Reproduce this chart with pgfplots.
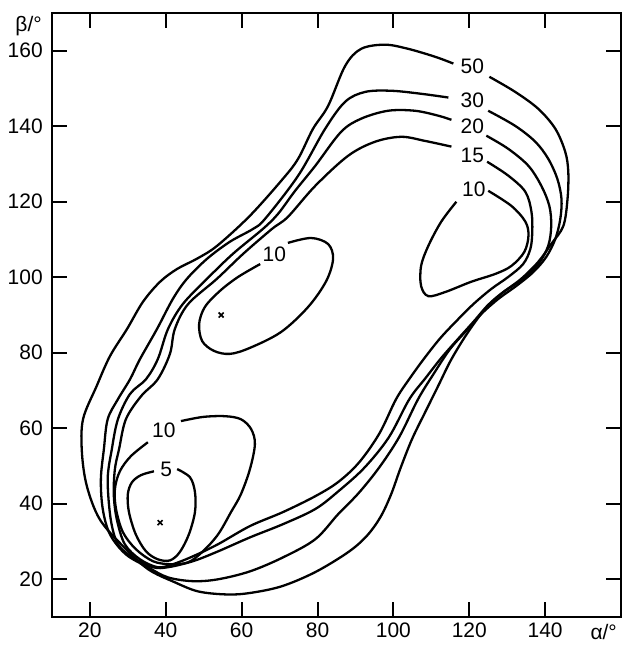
\documentclass[border=0pt]{standalone}
\usepackage{fontspec}
\setmainfont{Liberation Sans}
\usepackage{pgfplots}
\pgfplotsset{compat=1.18}
\begin{document}
\fontsize{21}{23}\selectfont
\begin{tikzpicture}
\begin{axis}[
  width=570pt, height=605pt, scale only axis,
  xmin=10, xmax=160, ymin=10, ymax=170,
  xtick={20,40,...,140}, ytick={20,40,...,160},
  tick align=inside, major tick length=15pt,
  axis line style={line width=2pt},
  every tick/.style={line width=2pt, black},
  tick label style={font=\fontsize{21}{23}\selectfont},
  /pgf/number format/assume math mode=true,
  xticklabel style={yshift=1pt},
  yticklabel style={xshift=-2pt},
  clip=false,
  cycle list={{black, solid, mark=none}},
  every axis plot/.append style={line width=2.3pt, smooth, tension=0.55},
  every node/.append style={font=\fontsize{21}{23}\selectfont},
]
% contour 50
\addplot coordinates {(125.3,153.1) (132.1,149.1) (138.2,144.6) (142.7,139.3) (145.3,133.2) (146.1,127.9) (145.9,120.8) (144.8,113.6) (141.6,108.8) (138.2,104.1) (133.7,99.6) (128.4,95.6) (124.2,91.6) (119.7,85.5) (115.3,78.3) (111.8,71.2) (108.4,64.3) (104.9,57.1) (101.9,49.5) (99.4,42.5) (96.6,36.5) (93.0,31.5) (88.1,27.2) (79.4,21.9) (70.4,18.1) (61.7,16.3) (55.6,16.0) (48.5,16.8) (42.4,19.2) (35.3,22.7) (28.7,28.8) (22.6,35.9) (19.2,44.7) (17.9,53.7) (18.2,62.4) (21.8,71.2) (25.3,79.1) (29.8,86.3) (34.0,93.5) (38.5,98.8) (43.0,102.2) (48.2,104.9) (53.5,108.3) (62.2,116.3) (70.9,126.1) (74.9,131.4) (78.8,139.3) (82.8,145.4) (87.3,156.0) (91.5,160.5) (97.8,161.6) (103.9,160.5) (111.0,158.4) (115.8,156.6)};
% contour 30
\addplot coordinates {(125.0,144.1) (132.1,140.1) (137.4,135.9) (140.8,131.4) (143.2,126.1) (144.3,120.8) (144.0,115.5) (142.7,110.2) (140.3,105.4) (136.9,101.4) (132.4,97.7) (127.7,94.3) (123.2,90.3) (118.9,85.5) (114.8,80.8) (110.6,74.4) (106.5,67.7) (101.6,57.8) (96.4,49.8) (90.9,42.9) (85.4,37.2) (79.4,30.6) (70.9,25.8) (62.2,22.1) (53.8,20.0) (47.2,19.5) (40.6,20.5) (35.3,23.2) (29.5,26.6) (25.3,31.9) (23.4,38.6) (22.9,46.5) (23.7,54.5) (24.7,62.4) (27.4,67.7) (30.6,73.0) (33.2,78.3) (37.7,86.3) (41.9,94.3) (45.6,99.6) (50.9,104.9) (56.9,109.4) (63.0,112.8) (66.2,115.5) (74.9,126.9) (82.0,139.3) (87.3,146.5) (92.6,149.1) (99.4,149.4) (107.3,148.6) (114.5,147.6)};
% contour 20
\addplot coordinates {(124.5,137.5) (130.3,134.0) (135.6,129.5) (139.0,124.2) (141.1,118.9) (141.6,113.6) (140.8,108.3) (138.2,103.5) (134.2,99.6) (129.0,96.1) (125.0,92.7) (121.1,88.2) (116.8,83.4) (112.6,78.6) (108.4,73.2) (104.2,67.7) (98.8,57.6) (92.4,49.6) (85.6,43.4) (79.4,38.6) (70.9,34.6) (62.2,31.1) (53.8,27.4) (47.2,24.8) (40.6,23.2) (36.6,23.2) (31.3,25.8) (27.4,29.3) (25.5,35.9) (24.7,46.5) (25.8,54.5) (27.4,62.4) (30.6,69.1) (34.8,73.0) (37.9,78.3) (40.6,86.3) (44.5,92.9) (50.9,99.6) (57.7,106.2) (65.6,112.8) (69.6,116.8) (74.1,122.9) (79.4,129.5) (86.2,138.5) (91.5,142.0) (98.6,144.1) (105.7,144.1) (111.8,142.8) (115.3,141.7)};
% contour 15
\addplot coordinates {(124.7,130.6) (130.3,126.9) (134.8,122.6) (136.4,117.3) (136.6,112.0) (136.1,107.5) (134.2,103.5) (130.3,100.1) (125.8,96.9) (121.1,92.9) (116.6,88.4) (112.3,83.8) (108.2,78.6) (104.3,73.2) (100.7,67.7) (96.3,58.6) (91.0,51.0) (85.5,45.8) (79.4,42.0) (70.9,37.8) (62.2,34.1) (53.8,29.3) (47.2,26.1) (41.9,24.0) (37.9,23.2) (33.2,25.3) (29.2,29.3) (27.1,35.9) (26.3,42.5) (26.6,49.2) (27.7,54.5) (29.5,62.4) (33.5,68.5) (37.9,73.0) (41.1,79.7) (42.4,86.3) (45.9,92.9) (53.5,99.6) (60.4,106.2) (68.0,112.8) (72.2,116.0) (79.4,124.2) (88.1,132.2) (95.2,135.9) (102.1,137.2) (108.4,136.1) (115.3,134.6)};
% contour 10 (right)
\addplot coordinates {(125.0,122.9) (131.1,118.9) (134.8,114.7) (135.6,111.0) (134.5,106.7) (131.1,103.0) (126.9,100.9) (120.5,98.8) (113.7,96.1) (109.2,95.0) (107.3,97.7) (107.3,103.0) (109.2,108.3) (112.6,114.7) (116.6,120.0)};
% contour 10 (middle)
\addplot coordinates {(64.9,103.5) (59.1,100.1) (54.3,96.4) (50.3,92.1) (48.8,87.6) (49.6,83.1) (52.7,80.5) (56.9,79.7) (62.2,81.3) (70.4,85.5) (77.5,92.1) (82.3,99.0) (84.1,104.9) (82.8,108.8) (78.3,110.4) (72.2,109.1)};
% contour 10 (lower left)
\addplot coordinates {(44.0,61.9) (49.8,63.0) (55.6,63.2) (59.8,62.4) (62.5,59.8) (63.5,55.8) (62.2,49.2) (59.8,42.5) (57.2,37.8) (53.8,31.9) (49.8,27.4) (45.9,24.5) (41.1,24.0) (36.6,24.8) (32.1,28.0) (28.7,32.5) (26.9,38.6) (26.6,43.9) (27.9,48.6) (30.8,52.6) (35.3,56.3)};
% contour 5
\addplot coordinates {(43.0,49.2) (46.4,47.0) (47.7,43.1) (47.7,37.8) (46.1,31.9) (43.7,27.2) (41.1,25.0) (37.9,25.3) (34.8,27.4) (32.1,31.9) (30.3,37.8) (30.0,42.5) (31.1,45.7) (33.5,47.6) (36.9,48.6)};
% minima
\addplot[only marks, mark=x, mark size=3.5pt, line width=1.6pt] coordinates {(38.5,35) (54.6,90)};
% labels
\node at (axis cs:120.8,155.8) {50};
\node at (axis cs:120.8,146.8) {30};
\node at (axis cs:120.8,139.9) {20};
\node at (axis cs:120.8,132.2) {15};
\node at (axis cs:121.2,123.2) {10};
\node at (axis cs:68.6,106.2) {10};
\node at (axis cs:39.5,59.5) {10};
\node at (axis cs:40.1,49.2) {5};
\node[anchor=east, inner sep=0pt] at ([xshift=-10pt]axis cs:10,166.5) {β/°};
\node[anchor=north east, inner sep=0pt] at ([xshift=-4pt,yshift=-7pt]rel axis cs:1,0) {α/°};
\end{axis}
\pgfresetboundingbox
\path[use as bounding box] ([shift={(-52pt,-28pt)}]current axis.south west) rectangle ([shift={(2pt,13pt)}]current axis.north east);
\end{tikzpicture}
\end{document}
